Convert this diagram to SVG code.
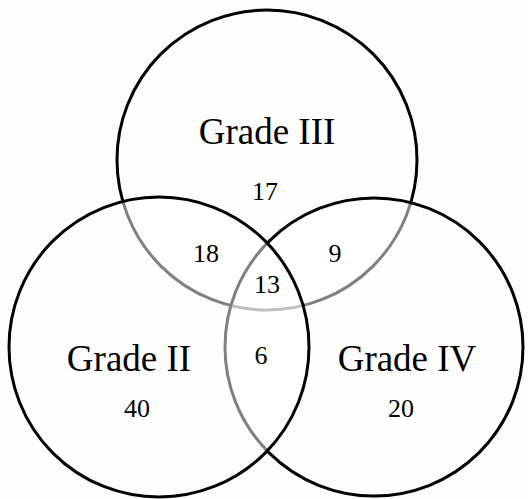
<svg xmlns="http://www.w3.org/2000/svg" width="528" height="499" viewBox="0 0 528 499">
<style>
.c{fill:#ffffff;fill-opacity:0.5;stroke:#000;stroke-width:3}
.t{font-family:"Liberation Serif","Times New Roman",serif;fill:#000;text-anchor:middle}
.big{font-size:37px}
.num{font-size:26px}
</style>
<rect width="528" height="499" fill="#fdfdfd"/>
<g id="grade3-circle"><circle class="c" cx="267" cy="160" r="150"/></g>
<g id="grade4-circle"><circle class="c" cx="374" cy="347" r="149"/></g>
<g id="grade2-circle"><circle class="c" cx="159" cy="347" r="150"/></g>
<g id="labels">
<g id="grade3"><text class="t big" x="267" y="144">Grade III</text><text class="t num" x="265" y="200">17</text></g>
<g id="grade2"><text class="t big" x="129" y="371">Grade II</text><text class="t num" x="137" y="417">40</text></g>
<g id="grade4"><text class="t big" x="407" y="371">Grade IV</text><text class="t num" x="401" y="417">20</text></g>
<g id="g23"><text class="t num" x="206" y="262">18</text></g>
<g id="g34"><text class="t num" x="335" y="262">9</text></g>
<g id="g234"><text class="t num" x="267" y="293">13</text></g>
<g id="g24"><text class="t num" x="261" y="364">6</text></g>
</g>
</svg>
